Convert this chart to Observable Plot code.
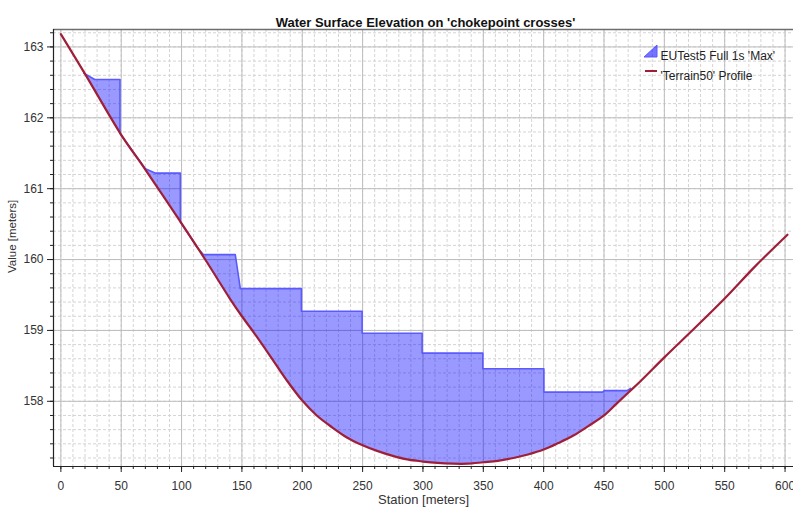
<!DOCTYPE html>
<html><head><meta charset="utf-8">
<script src="https://cdn.jsdelivr.net/npm/d3@7"></script>
<script src="https://cdn.jsdelivr.net/npm/@observablehq/plot@0.6"></script>
<style>
body{margin:0;background:#fff;}
svg{font-family:"Liberation Sans",Arial,sans-serif;}
</style>
</head><body><div id="chart"></div>
<script>
// ---- data ----
const terrainStation = [0,20,50,70,100,120,140,150,162,175,187,200,212,225,237,250,262,275,287,300,312,325,337,350,362,375,387,400,412,425,437,450,460,470,480,500,525,550,575,602];
const terrainElev    = [163.18,162.62,161.76,161.27,160.51,159.99,159.45,159.20,158.92,158.60,158.30,158.01,157.80,157.63,157.49,157.38,157.30,157.23,157.18,157.15,157.13,157.12,157.12,157.14,157.16,157.20,157.25,157.32,157.41,157.52,157.65,157.80,157.96,158.12,158.28,158.62,159.03,159.45,159.90,160.35];

const waterStation = [19,28,49,49,70,78,99,99,113,118,144.5,148.7,199.3,199.3,249.6,249.6,299.3,299.3,349.6,349.6,400.2,400.2,449,450,469,472];
const waterElev    = [162.63,162.54,162.54,161.78,161.28,161.22,161.22,160.53,160.17,160.07,160.07,159.59,159.59,159.27,159.27,158.96,158.96,158.68,158.68,158.46,158.46,158.13,158.13,158.15,158.15,158.18];

const xTicks = [0,50,100,150,200,250,300,350,400,450,500,550,600];
const yTicks = [158,159,160,161,162,163];
const xMinor = d3.range(0, 601, 10);
const yMinor = d3.range(157.2, 163.21, 0.2).map(v => +v.toFixed(1));

const titleText = "Water Surface Elevation on 'chokepoint crosses'";
const xLabel = "Station [meters]";
const yLabel = "Value [meters]";
const seriesNames = ["EUTest5 Full 1s 'Max'", "'Terrain50' Profile"];

const xDomain = [-6.1, 607];
const yDomain = [157.08, 163.246];

// ---- build tables ----
const terrain = terrainStation.map((s, i) => ({x: s, y: terrainElev[i]}));
const water = waterStation.map((s, i) => ({x: s, y: waterElev[i]}));
const wStart = waterStation[0], wEnd = waterStation[waterStation.length - 1];
const waterPoly = water.concat(terrain.filter(d => d.x > wStart && d.x < wEnd).reverse());

const fillBlue = "#0000ff";
const lineBlue = "#5a5aff";
const terrainRed = "#a01f38";

const chart = Plot.plot({
  width: 793, height: 514,
  marginLeft: 53, marginRight: 0, marginTop: 29, marginBottom: 48,
  style: {fontFamily: "Liberation Sans, Arial, sans-serif", fontSize: "12px", color: "#333", background: "#fff"},
  x: {domain: xDomain},
  y: {domain: yDomain},
  marks: [
    Plot.gridX(xMinor, {stroke: "#d4d4d4", strokeOpacity: 1, strokeDasharray: "3,2"}),
    Plot.gridY(yMinor, {stroke: "#d4d4d4", strokeOpacity: 1, strokeDasharray: "3,2"}),
    Plot.gridX(xTicks, {stroke: "#bdbdbd", strokeOpacity: 1}),
    Plot.gridY(yTicks, {stroke: "#bdbdbd", strokeOpacity: 1}),
    Plot.line(waterPoly, {x: "x", y: "y", fill: fillBlue, fillOpacity: 0.4, stroke: "none"}),
    Plot.line(water, {x: "x", y: "y", stroke: lineBlue, strokeWidth: 1.6}),
    Plot.line(terrain, {x: "x", y: "y", stroke: terrainRed, strokeWidth: 2.2, curve: "catmull-rom"}),
    Plot.ruleY([yDomain[1]], {stroke: "#6e6e6e", strokeWidth: 1.5}),
    Plot.ruleX([xDomain[0]], {stroke: "#222", strokeWidth: 1.2}),
    Plot.ruleY([yDomain[0]], {stroke: "#222", strokeWidth: 1.2}),
    Plot.axisX(xMinor, {tickSize: 3, tickFormat: () => "", label: null, stroke: "#222"}),
    Plot.axisX(xTicks, {tickSize: 6, tickPadding: 9, tickFormat: "d", label: null, stroke: "#222", fontSize: 12, fill: "#333"}),
    Plot.axisY(yMinor, {tickSize: 3, tickFormat: () => "", label: null, stroke: "#222"}),
    Plot.axisY(yTicks, {tickSize: 6, tickPadding: 4, tickFormat: "d", label: null, stroke: "#222", fontSize: 12, fill: "#333"}),
    Plot.text([titleText], {frameAnchor: "top", dy: -12, fontWeight: "bold", fontSize: 13, fill: "#111", dx: 2}),
    Plot.text([xLabel], {frameAnchor: "bottom", dy: 37, fontSize: 13, fill: "#333"}),
    Plot.text([yLabel], {frameAnchor: "left", rotate: -90, dx: -41, dy: 25, fontSize: 11.5, fill: "#333"}),
    Plot.text([seriesNames[0]], {frameAnchor: "top-right", dx: -133, dy: 22, textAnchor: "start", fontSize: 12, fill: "#222"}),
    Plot.text([seriesNames[1]], {frameAnchor: "top-right", dx: -133, dy: 42, textAnchor: "start", fontSize: 12, fill: "#222"})
  ]
});
document.getElementById("chart").append(chart);

// legend swatches
const svg = d3.select(chart);
const lg = svg.append("g");
lg.append("path").attr("d", "M644,57 L657,45 L657,57 Z").attr("fill", fillBlue).attr("fill-opacity", 0.55).attr("stroke", lineBlue);
lg.append("line").attr("x1", 645).attr("x2", 657).attr("y1", 71).attr("y2", 71).attr("stroke", terrainRed).attr("stroke-width", 2);
</script>
</body></html>
